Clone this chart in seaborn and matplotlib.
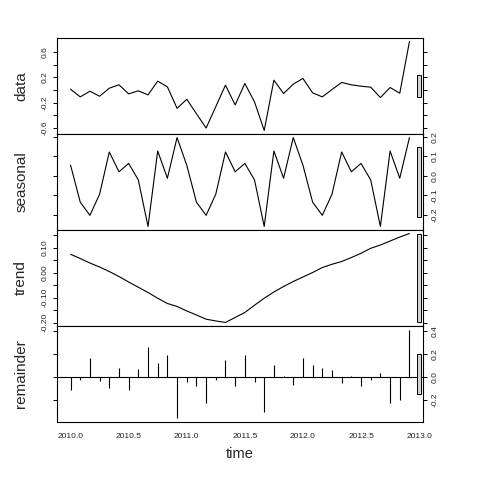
import numpy as np
import pandas as pd
import matplotlib
matplotlib.use("Agg")
import matplotlib.pyplot as plt
import seaborn as sns
from matplotlib.ticker import FixedLocator, FixedFormatter

sns.set_style("white")
plt.rcParams['font.family'] = ['Liberation Sans', 'DejaVu Sans']

# monthly series, 2010-01 .. 2012-12
start_year = 2010
freq = 12
data = [0.013, -0.109, -0.019, -0.099, 0.029, 0.083, -0.061, -0.013, -0.077, 0.141, 0.051, -0.291,
        -0.147, -0.376, -0.605, -0.264, 0.077, -0.237, 0.104, -0.189, -0.643, 0.157, -0.056, 0.093,
        0.184, -0.045, -0.109, 0.008, 0.120, 0.083, 0.061, 0.045, -0.120, 0.040, -0.051, 0.771]
seasonal = [0.055, -0.135, -0.203, -0.094, 0.123, 0.021, 0.064, -0.021, -0.260, 0.128, -0.012, 0.197,
            0.055, -0.135, -0.203, -0.094, 0.123, 0.021, 0.064, -0.021, -0.260, 0.128, -0.012, 0.197,
            0.055, -0.135, -0.203, -0.094, 0.123, 0.021, 0.064, -0.021, -0.260, 0.128, -0.012, 0.197]
trend = [0.074, 0.057, 0.039, 0.023, 0.005, -0.015, -0.037, -0.058, -0.079, -0.102, -0.123, -0.135,
         -0.153, -0.169, -0.186, -0.193, -0.199, -0.179, -0.159, -0.130, -0.102, -0.077, -0.055, -0.035,
         -0.017, 0.001, 0.021, 0.034, 0.045, 0.061, 0.078, 0.098, 0.111, 0.127, 0.143, 0.157]
remainder = [-0.116, -0.029, 0.159, -0.038, -0.101, 0.072, -0.116, 0.064, 0.261, 0.116, 0.186, -0.365,
             -0.046, -0.081, -0.232, -0.029, 0.142, -0.081, 0.186, -0.046, -0.307, 0.099, 0.005, -0.072,
             0.159, 0.099, 0.072, 0.055, -0.052, 0.003, -0.081, -0.029, 0.029, -0.226, -0.203, 0.412]

panel_names = ["data", "seasonal", "trend", "remainder"]
x_ticks = [2010.0, 2010.5, 2011.0, 2011.5, 2012.0, 2012.5, 2013.0]
y_major = {
    "data": [-0.6, -0.2, 0.2, 0.6],
    "seasonal": [-0.2, -0.1, 0.0, 0.1, 0.2],
    "trend": [-0.2, -0.1, 0.0, 0.1],
    "remainder": [-0.2, 0.0, 0.2, 0.4],
}
y_minor = {
    "data": [-0.4, 0.0, 0.4],
    "seasonal": [],
    "trend": [-0.15, -0.05, 0.05, 0.15],
    "remainder": [],
}
y_fmt = {"data": "{:.1f}", "seasonal": "{:.1f}", "trend": "{:.2f}", "remainder": "{:.1f}"}

time = start_year + np.arange(len(data)) / freq
df = pd.DataFrame({"time": time, "data": data, "seasonal": seasonal,
                   "trend": trend, "remainder": remainder})

fig = plt.figure(figsize=(4.8, 4.8), dpi=100)
left, width, h = 57 / 480, 366 / 480, 96 / 480
bottom0 = 1 - 422 / 480

# smallest range among panels -> length of the grey range bars
mx = min(df[c].max() - df[c].min() for c in panel_names)

axes = []
for i, name in enumerate(panel_names):
    ax = fig.add_axes([left, bottom0 + (3 - i) * h, width, h])
    axes.append(ax)
    if name == "remainder":
        ax.axhline(0, color="black", lw=0.8)
        ax.vlines(df["time"], 0, df[name], color="black", lw=0.8)
    else:
        sns.lineplot(data=df, x="time", y=name, ax=ax, color="black", linewidth=0.8)
    ax.set_xlim(time.min() - 0.04 * np.ptp(time), time.max() + 0.04 * np.ptp(time))
    lo, hi = df[name].min(), df[name].max()
    ax.set_ylim(lo - 0.04 * (hi - lo), hi + 0.04 * (hi - lo))

    for s in ax.spines.values():
        s.set_color("black")
        s.set_linewidth(0.8)

    right = (i % 2 == 1)
    ax.yaxis.set_major_locator(FixedLocator(y_major[name]))
    ax.yaxis.set_major_formatter(FixedFormatter([y_fmt[name].format(v) for v in y_major[name]]))
    ax.yaxis.set_minor_locator(FixedLocator(y_minor[name]))
    ax.tick_params(axis="y", which="both", left=True, right=True, direction="out",
                   length=3, width=0.7, color="black",
                   labelleft=not right, labelright=right, labelsize=6, pad=3,
                   labelrotation=90, labelcolor="#222222")
    for lab in ax.get_yticklabels():
        lab.set_va("center")

    ax.set_xticks(x_ticks)
    if i == 3:
        ax.set_xticklabels([f"{v:.1f}" for v in x_ticks])
        ax.tick_params(axis="x", direction="out", length=3, width=0.7, labelsize=6, pad=5,
                       labelcolor="#222222")
        ax.set_xlabel("time", fontsize=10.5, labelpad=5)
    else:
        ax.tick_params(axis="x", direction="in", length=2, width=0.7, labelbottom=False)
        ax.set_xlabel("")

    ax.set_ylabel(name, fontsize=11)
    ax.yaxis.set_label_coords(-0.079, 0.5)

    # range bar near the right edge
    x0, x1 = ax.get_xlim()
    dx = (x1 - x0) / 64
    mid = (lo + hi) / 2
    ax.add_patch(plt.Rectangle((x1 - dx, mid - mx / 2), 0.6 * dx, mx,
                               facecolor="lightgray", edgecolor="black", lw=0.7, clip_on=False, zorder=3))

fig.savefig("out.png", dpi=100, facecolor="white")
